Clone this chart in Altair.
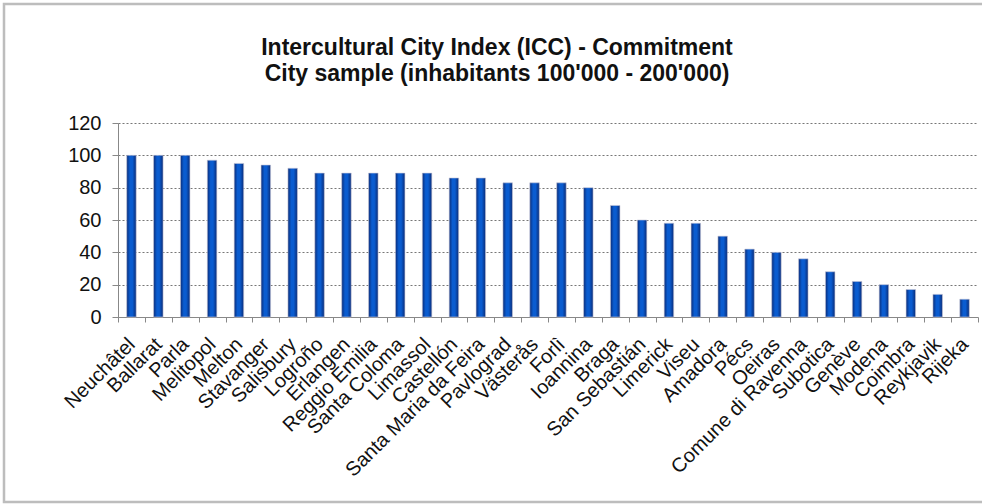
import altair as alt
import pandas as pd

cities = ["Neuchâtel", "Ballarat", "Parla", "Melitopol", "Melton", "Stavanger",
          "Salisbury", "Logroño", "Erlangen", "Reggio Emilia", "Santa Coloma",
          "Limassol", "Castellón", "Santa Maria da Feira", "Pavlograd", "Västerås",
          "Forlì", "Ioannina", "Braga", "San Sebastián", "Limerick", "Viseu",
          "Amadora", "Pécs", "Oeiras", "Comune di Ravenna", "Subotica", "Genève",
          "Modena", "Coimbra", "Reykjavik", "Rijeka"]
values = [100, 100, 100, 97, 95, 94, 92, 89, 89, 89, 89, 89, 86, 86, 83, 83,
          83, 80, 69, 60, 58, 58, 50, 42, 40, 36, 28, 22, 20, 17, 14, 11]
y_ticks = [0, 20, 40, 60, 80, 100, 120]
title_lines = ["Intercultural City Index (ICC) - Commitment",
               "City sample (inhabitants 100'000 - 200'000)"]

df = pd.DataFrame({"city": cities, "value": values})

FONT = "Liberation Sans"
W, H = 860, 194

grad = alt.Gradient(
    gradient="linear", x1=0, x2=1, y1=0, y2=0,
    stops=[alt.GradientStop(color="#0a2c78", offset=0),
           alt.GradientStop(color="#0a5cd0", offset=0.35),
           alt.GradientStop(color="#0a5cd0", offset=0.6),
           alt.GradientStop(color="#0a2c78", offset=1)])

bars = alt.Chart(df).mark_bar(color=grad, width=9.5, stroke="#c8c8d8", strokeWidth=0.6).encode(
    x=alt.X("city:N", sort=cities, title=None,
            scale=alt.Scale(paddingInner=0.0, paddingOuter=0.0),
            axis=alt.Axis(labelAngle=315, labelAlign="right", labelBaseline="middle",
                          labelFontSize=20, labelFont=FONT, labelColor="#111",
                          labelPadding=19, tickBand="extent", tickSize=5,
                          tickColor="#888", domainColor="#888", grid=False,
                          labelOverlap=False, labelLimit=0)),
    y=alt.Y("value:Q", title=None,
            scale=alt.Scale(domain=[0, 120], nice=False),
            axis=alt.Axis(values=y_ticks, labelFontSize=20, labelFont=FONT,
                          labelColor="#111", labelPadding=11, tickSize=6,
                          tickColor="#888", domainColor="#888",
                          grid=True, gridColor="#777", gridDash=[2, 2], gridWidth=1)),
)

border = alt.Chart(pd.DataFrame({"a": [0]})).mark_rect(
    fill=None, stroke="#bdbdbd", strokeWidth=2.5).encode(
    x=alt.value(-114), x2=alt.value(880), y=alt.value(-119), y2=alt.value(379))

chart = alt.layer(border, bars).properties(
    width=W, height=H,
    padding={"left": 118, "top": 123, "right": 4, "bottom": 187},
    autosize=alt.AutoSizeParams(type="none"),
    title=alt.TitleParams(title_lines, font=FONT, fontSize=23, fontWeight="bold",
                          color="#111", lineHeight=26, anchor="middle",
                          frame="group", dx=-51, offset=-83),
).configure_view(stroke=None)

chart.save("out.html", embed_options={"renderer": "svg", "actions": False})
